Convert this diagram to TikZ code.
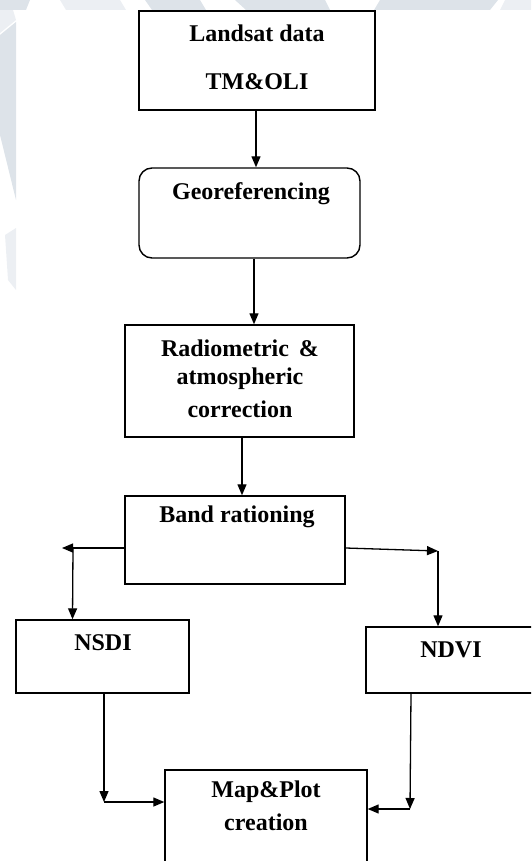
\documentclass[tikz,border=0pt]{standalone}
\usepackage{fontspec}
\setmainfont{Liberation Serif}
\usetikzlibrary{arrows.meta}
\definecolor{wm}{HTML}{DDE3E9}
\definecolor{wml}{HTML}{ECEFF3}
\begin{document}
\begin{tikzpicture}[x=1pt,y=-1pt,
  box/.style={draw,line width=1.4pt,rectangle,inner sep=0pt},
  lbl/.style={font=\fontsize{24}{28}\selectfont\bfseries,inner sep=0pt,anchor=center},
  arr/.style={line width=1.3pt,-{Triangle[length=11pt,width=9pt]}}]
\useasboundingbox (0,0) rectangle (531,861);
\clip (0,0) rectangle (531,861);
% faint watermark background
\fill[wm] (0,35) -- (16,22) -- (16,200) -- (0,135) -- cycle;
\fill[wml] (0,0) -- (10,0) -- (16,20) -- (0,33) -- cycle;
\fill[wml] (5,235) -- (16,228) -- (16,290) -- (8,280) -- cycle;
\fill[wm] (0,0) -- (30,0) -- (26,10) -- (0,10) -- cycle;
\fill[wml] (60,0) -- (120,0) -- (126,10) -- (66,10) -- cycle;
\fill[wm] (145,0) -- (200,0) -- (206,10) -- (152,10) -- cycle;
\fill[wm] (235,0) -- (325,0) -- (330,10) -- (246,10) -- cycle;
\fill[wm] (380,0) -- (498,0) -- (490,10) -- (374,10) -- cycle;
\fill[wml] (505,0) -- (531,0) -- (531,10) -- (500,10) -- cycle;
% boxes
\node[box,minimum width=236pt,minimum height=99pt] (landsat) at (257,60.5) {};
\node[lbl] (t1) at (257,33) {Landsat data};
\node[lbl] (t2) at (257,82) {TM\&OLI};
\node[box,rounded corners=13pt,minimum width=221pt,minimum height=90pt] (geo) at (249.5,213) {};
\node[lbl] (t3) at (251,194) {Georeferencing};
\node[box,minimum width=229pt,minimum height=112pt] (radio) at (239.5,381) {};
\node[lbl] (t4) at (240,348) {Radiometric \,\&};
\node[lbl] (t5) at (240,379) {atmospheric};
\node[lbl] (t6) at (240,409) {correction};
\node[box,minimum width=220pt,minimum height=88pt] (band) at (235,540) {};
\node[lbl] (t7) at (237,517) {Band rationing};
\node[box,minimum width=173pt,minimum height=73pt] (nsdi) at (102.5,656.5) {};
\node[lbl] (t8) at (103,643) {NSDI};
\node[box,minimum width=170pt,minimum height=66pt] (ndvi) at (451,660) {};
\node[lbl] (t9) at (451,650) {NDVI};
\node[box,minimum width=202pt,minimum height=110pt] (map) at (266,825) {};
\node[lbl] (t10) at (266,792) {Map\&Plot};
\node[lbl] (t11) at (266,822) {creation};
% connectors
\coordinate (cl) at (62,548);
\coordinate (cr) at (438,551);
\coordinate (bl) at (104,802);
\coordinate (br) at (410,809);
\draw[arr] ([xshift=-1pt]landsat.south) -- ([xshift=6.5pt]geo.north);
\draw[arr] ([xshift=4.5pt]geo.south) -- ([xshift=14.5pt]radio.north);
\draw[arr] ([xshift=2.5pt]radio.south) -- ([xshift=7pt]band.north);
\draw[arr] ([yshift=-8pt]band.west) -- (cl);
\draw[arr] ([xshift=11pt]cl) -- ([xshift=-30pt]nsdi.north);
\draw[arr] ([yshift=-8pt]band.east) -- (cr);
\draw[arr] (cr) -- ([xshift=-13pt]ndvi.north);
\draw[arr] ([xshift=1.5pt]nsdi.south) -- (bl);
\draw[arr] (bl) -- ([yshift=23pt]map.west);
\draw[arr] ([xshift=-40pt]ndvi.south) -- (br);
\draw[arr] (br) -- ([yshift=16pt]map.east);
\end{tikzpicture}
\end{document}
